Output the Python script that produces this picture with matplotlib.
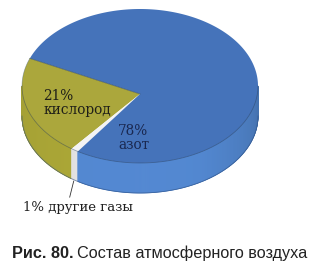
import numpy as np
import matplotlib
matplotlib.use("Agg")
import matplotlib.pyplot as plt
from matplotlib.patches import Polygon
from matplotlib.colors import to_rgb

# data
gases = ["азот", "кислород", "другие газы"]
shares = [78, 21, 1]
top_colors = ["#4573ba", "#aba73c", "#f4f4f4"]
side_colors = ["#4f82c8", "#a39f34", "#d8d8d8"]

W, H = 326, 276
fig = plt.figure(figsize=(W / 100, H / 100), dpi=100)
ax = fig.add_axes([0, 0, 1, 1])
ax.set_xlim(0, W)
ax.set_ylim(H, 0)
ax.axis("off")

# pie geometry in pixels
cx, cy, a, b, depth = 140, 86, 118, 77, 30
apex = (cx, cy + 8)
start = 159.0


def pt(theta, dz=0.0):
    t = np.radians(theta)
    return cx + a * np.cos(t), cy - b * np.sin(t) + dz


# angle ranges (counter-clockwise), oxygen first, then others, then nitrogen
order = [1, 2, 0]
ranges = {}
ang = start
for i in order:
    span = shares[i] / sum(shares) * 360
    ranges[i] = (ang, ang + span)
    ang += span

# side walls (front half 180..360), drawn as thin shaded strips
for i in order:
    t0, t1 = ranges[i]
    for off in (0, 360, -360):
        s0, s1 = max(t0 + off, 180), min(t1 + off, 360)
        if s1 <= s0:
            continue
        steps = np.linspace(s0, s1, max(2, int((s1 - s0) * 2) + 1))
        base = np.array(to_rgb(side_colors[i]))
        for u0, u1 in zip(steps[:-1], steps[1:]):
            mid = 0.5 * (u0 + u1)
            # a bit lighter toward the front, darker toward the right
            f = 1.0 + 0.05 * np.cos(np.radians(mid - 265)) - 0.12 * max(0, (mid - 300) / 60)
            col = np.clip(base * f, 0, 1)
            ts = np.linspace(u0, u1, 4)
            top = [pt(t) for t in ts]
            bot = [pt(t, depth) for t in ts[::-1]]
            ax.add_patch(Polygon(top + bot, closed=True, facecolor=col,
                                 edgecolor=col, linewidth=0.6))

# bottom outline of the side
ts = np.linspace(180, 360, 200)
bx, by = zip(*[pt(t, depth) for t in ts])
ax.plot(bx, by, color="#2f4f80", linewidth=0.6, alpha=0.6)

# top wedges
for i in order:
    t0, t1 = ranges[i]
    ts = np.linspace(t0, t1, max(3, int(t1 - t0) + 2))
    poly = [apex] + [pt(t) for t in ts]
    ax.add_patch(Polygon(poly, closed=True, facecolor=top_colors[i],
                         edgecolor="none"))

# rim of top ellipse on the visible side
ts = np.linspace(180, 360, 200)
rx, ry = zip(*[pt(t) for t in ts])
ax.plot(rx, ry, color="#2a3f5a", linewidth=0.6, alpha=0.45)
ox, oy = zip(*[pt(t) for t in np.linspace(ranges[1][0], 180, 40)])
ax.plot(ox, oy, color="#2f4f80", linewidth=0.5, alpha=0.4)

# dividing line between nitrogen and oxygen
x0, y0 = pt(start)
ax.plot([apex[0], x0], [apex[1], y0], color="#3d4a3a", linewidth=0.6, alpha=0.6)

# labels
serif = "DejaVu Serif"
ax.text(43, 103, f"{shares[1]}%\n{gases[1]}", family=serif, fontsize=9.8,
        color="#1f1f18", ha="left", va="center", linespacing=0.95)
ax.text(118, 138, f"{shares[0]}%\n{gases[0]}", family=serif, fontsize=9.8,
        color="#1a2850", ha="left", va="center", linespacing=0.95)

wx, wy = pt(sum(ranges[2]) / 2, depth)
ax.plot([wx - 1, wx - 5], [wy + 1, wy + 17], color="#333333", linewidth=0.6)
ax.text(23, 208, f"{shares[2]}% {gases[2]}", family=serif, fontsize=9.5,
        color="#1f1f1f", ha="left", va="center")

# caption
cap1 = ax.text(12, 253, "Рис. 80.", family="Liberation Sans", fontsize=11.7,
               fontweight="bold", color="#222222", ha="left", va="center")
fig.canvas.draw()
bb = cap1.get_window_extent(renderer=fig.canvas.get_renderer())
x_end = ax.transData.inverted().transform((bb.x1, bb.y0))[0]
ax.text(x_end + 3, 253, "Состав атмосферного воздуха", family="Liberation Sans",
        fontsize=11.7, color="#222222", ha="left", va="center")

fig.savefig("out.png", dpi=100)
